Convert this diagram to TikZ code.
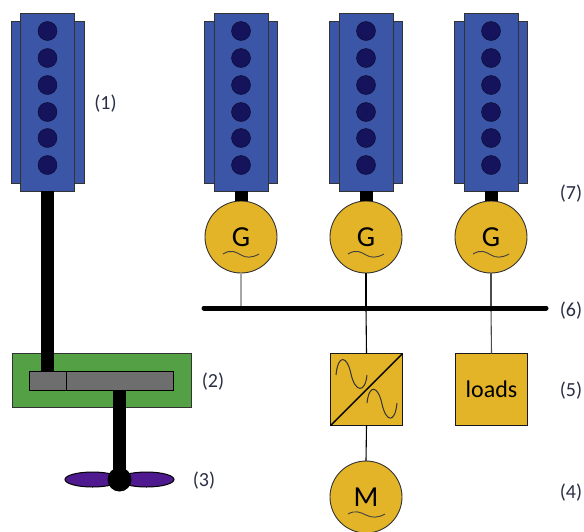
\documentclass[tikz,border=0pt]{standalone}
\usepackage{fontspec}
\setmainfont{Carlito}
\definecolor{engblue}{HTML}{3B56A6}
\definecolor{cylblue}{HTML}{15135C}
\definecolor{gbgreen}{HTML}{54A044}
\definecolor{gbgrey}{HTML}{6E6E6E}
\definecolor{elgold}{HTML}{E3B428}
\definecolor{propviolet}{HTML}{4F1A8F}
\definecolor{tagink}{HTML}{2A2F45}
\tikzset{
	enginebody/.style={draw=black!80,fill=engblue,line width=.9pt,inner sep=0,outer sep=0,minimum width=54pt,minimum height=178pt},
	engineside/.style={draw=black!80,fill=engblue,line width=.9pt,inner sep=0,outer sep=0,minimum width=73pt,minimum height=162pt},
	cyl/.style={circle,draw=black!60!cylblue,fill=cylblue,inner sep=0,minimum size=19pt},
	shaft/.style={line width=13pt,black},
	elec/.style={line width=1.1pt},
	machine/.style={circle,draw=black!80,fill=elgold,line width=.9pt,inner sep=0,outer sep=0,minimum size=72pt,font=\fontsize{29}{29}\selectfont,text depth=0pt},
	elbox/.style={draw=black!90,fill=elgold,line width=1.1pt,inner sep=0,outer sep=0,minimum size=72pt},
	gearpart/.style={draw=black,fill=gbgrey,line width=1pt,inner sep=0,outer sep=0,minimum height=19pt},
	blade/.style={ellipse,draw=black,fill=propviolet,line width=1pt,inner sep=0,minimum width=55pt,minimum height=15pt},
	tag/.style={font=\fontsize{20}{20}\selectfont,text=tagink,yshift=-1.5pt}
}
\usetikzlibrary{shapes.geometric}
\begin{document}
\begin{tikzpicture}[x=1pt,y=-1pt]
	\useasboundingbox (0,0) rectangle (584,531);
	% engines
	\foreach \name/\xc in {eng/47.5,enga/241,engb/366,engc/491}{
		\node[engineside] at (\xc,102) {};
		\node[enginebody] (\name) at (\xc,102) {};
		\foreach \yc in {31,58,85,112,138,165}
			\node[cyl] at (\xc,\yc) {};
	}
	% gearbox
	\node[draw=black!80,fill=gbgreen,line width=.9pt,inner sep=0,minimum width=179pt,minimum height=54pt] (gearbox) at (101.5,380) {};
	\node[gearpart,minimum width=37pt] (gearl) at (47.5,380.5) {};
	\node[gearpart,minimum width=107pt] (gearr) at (119.5,380.5) {};
	\node[blade] (bladel) at (92.5,479.5) {};
	\node[blade] (blader) at (146.5,479.5) {};
	\node[circle,fill=black,inner sep=0,minimum size=24pt] (hub) at (119.5,479.5) {};
	\draw[shaft] (eng.south) -- (gearl.north);
	\draw[shaft] (gearr.south) -- (hub.center);
	% generators
	\foreach \name/\xc in {a/241,b/366,c/491}{
		\node[machine] (gen\name) at (\xc,237) {G};
		\draw[line width=.9pt,black!75] (\xc-18,254) .. controls (\xc-10,249) and (\xc-5,252) .. (\xc,255) .. controls (\xc+5,258) and (\xc+11,258) .. (\xc+18,254);
		\draw[shaft] (eng\name.south) -- (gen\name.north);
	}
	% bus and what hangs on it
	\coordinate (busl) at (204,308);
	\coordinate (busr) at (546,308);
	\coordinate (busa) at (241,308);
	\coordinate (busb) at (366,308);
	\coordinate (busc) at (491,308);
	\draw[elec,black!35] (gena.south) -- (busa);
	\draw[elec] (genb.south) -- (busb);
	\draw[elec,black!70] (genc.south) -- (busc);
	\node[elbox] (conv) at (366.5,389.5) {};
	\node[elbox,font=\fontsize{24}{24}\selectfont] (loads) at (491.5,389.5) {loads};
	\node[machine] (mot) at (366,497) {M};
	\draw[elec] (busb) -- (conv.north);
	\draw[elec,black!70] (busc) -- (loads.north);
	\draw[elec] (conv.south) -- (mot.north);
	\draw[line width=5pt,line cap=round] (busl) -- (busr);
	\draw[line width=1.4pt] (conv.south west) -- (conv.north east);
	\draw[line width=1pt,black!80] (336,375) .. controls (338,354) and (347,355) .. (351,374) .. controls (355,392) and (365,394) .. (367,375);
	\draw[line width=1pt,black!80] (367,403) .. controls (369,384) and (378,385) .. (382,404) .. controls (386,422) and (395,424) .. (397,403);
	\draw[line width=.9pt,black!75] (348,514) .. controls (355,510) and (360,512) .. (366,515) .. controls (372,518) and (378,518) .. (385,514);
	% tags
	\node[tag] (tagone) at (105.5,102) {(1)};
	\node[tag] (tagtwo) at (213,380) {(2)};
	\node[tag] (tagthree) at (204,479) {(3)};
	\node[tag] (tagfour) at (571,491) {(4)};
	\node[tag] (tagfive) at (571,389) {(5)};
	\node[tag] (tagsix) at (571,309) {(6)};
	\node[tag] (tagseven) at (571,192) {(7)};
\end{tikzpicture}
\end{document}
